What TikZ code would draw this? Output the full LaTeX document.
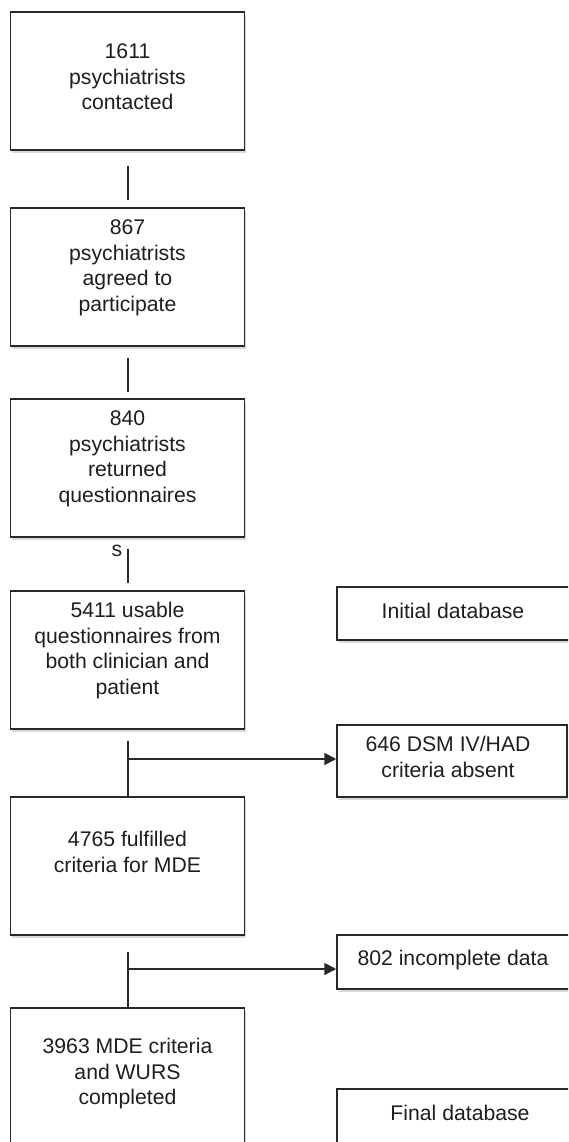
\documentclass[tikz,border=0pt]{standalone}
\usepackage{fontspec}
\setmainfont{Liberation Sans}
\usetikzlibrary{arrows.meta,shadows}
\definecolor{ln}{HTML}{282828}
\definecolor{tx}{HTML}{1E1E1E}
\newcommand{\ml}[1]{\begin{tabular}{@{}c@{}}#1\end{tabular}}
\begin{document}
\begin{tikzpicture}[x=1pt,y=-1pt,
  box/.style={draw=ln, line width=1.5pt, fill=white, inner sep=0pt,
    drop shadow={shadow xshift=1.5pt, shadow yshift=-3pt, opacity=0.15, fill=black}},
  txt/.style={inner sep=0pt, anchor=north, text=tx, font=\fontsize{21.2}{25.5}\selectfont},
  conn/.style={draw=ln, line width=2pt},
  arr/.style={conn, -{Triangle[length=12pt,width=12pt]}}]
\useasboundingbox (0,0) rectangle (568,1142);
\clip (0,0) rectangle (568,1142);
% left column boxes
\node[box, minimum width=234pt, minimum height=138pt] (b1) at (127.5,81) {};
\node[box, minimum width=234pt, minimum height=138pt] (b2) at (127.5,277) {};
\node[box, minimum width=234pt, minimum height=138pt] (b3) at (127.5,468) {};
\node[box, minimum width=234pt, minimum height=138pt] (b4) at (127.5,660) {};
\node[box, minimum width=234pt, minimum height=138pt] (b5) at (127.5,866) {};
\node[box, minimum width=234pt, minimum height=142pt] (b6) at (127.5,1079) {};
% right column boxes
\node[box, minimum width=235pt, minimum height=53pt] (init) at (454.5,613.5) {};
\node[box, minimum width=230pt, minimum height=72pt] (r646) at (452,761) {};
\node[box, minimum width=235pt, minimum height=54pt] (r802) at (454.5,962) {};
\node[box, minimum width=246pt, minimum height=59pt] (fin) at (460,1118.5) {};
% texts
\node[txt] (t1) at (127.5,40.6) {\ml{1611\\psychiatrists\\contacted}};
\node[txt] (t2) at (127.5,216.6) {\ml{867\\psychiatrists\\agreed to\\participate}};
\node[txt] (t3) at (127.5,407.6) {\ml{840\\psychiatrists\\returned\\questionnaires}};
\node[txt] (t4) at (127.5,599.6) {\ml{5411 usable\\questionnaires from\\both clinician and\\patient}};
\node[txt] (t5) at (127.5,828.6) {\ml{4765 fulfilled\\criteria for MDE}};
\node[txt] (t6) at (127.5,1035.6) {\ml{3963 MDE criteria\\and WURS\\completed}};
\node[txt] (tinit) at (453,600.6) {\ml{Initial database}};
\node[txt] (t646) at (448,733.6) {\ml{646 DSM IV/HAD\\criteria absent}};
\node[txt] (t802) at (453,947.6) {\ml{802 incomplete data}};
\node[txt] (tfin) at (460,1102.6) {\ml{Final database}};
\node[txt] (sl) at (117,538.6) {\ml{s}};
% connectors
\draw[conn, shorten <=15pt, shorten >=7pt] (b1) -- (b2);
\draw[conn, shorten <=11pt, shorten >=6pt] (b2) -- (b3);
\draw[conn, shorten <=11pt, shorten >=7pt] (b3) -- (b4);
\draw[conn, shorten <=11pt] (b4) -- (b5);
\draw[conn, shorten <=16pt] (b5) -- (b6);
\coordinate (j1) at (127.5,759);
\coordinate (j2) at (127.5,969);
\draw[arr] (j1) -- (j1 -| r646.west);
\draw[arr] (j2) -- (j2 -| r802.west);
\end{tikzpicture}
\end{document}
